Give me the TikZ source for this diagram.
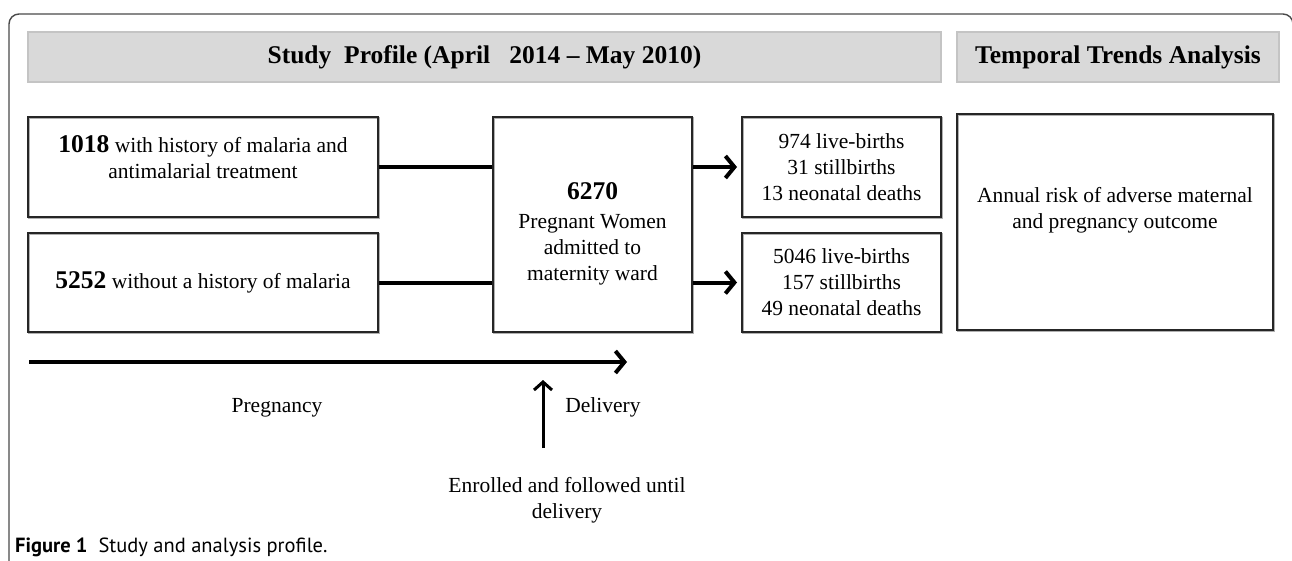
\documentclass[tikz,border=0pt]{standalone}
\usepackage{fontspec}
\setmainfont{Liberation Serif}
\newfontfamily\capfont{PT Sans}
\usetikzlibrary{arrows.meta}
\definecolor{hdrfill}{HTML}{D9D9D9}
\definecolor{hdrdraw}{HTML}{C4C4C4}
\definecolor{framec}{HTML}{4A4A4A}
\definecolor{boxc}{HTML}{262626}
\definecolor{shadowc}{HTML}{B0B0B0}
\newcommand\mybody{\fontsize{21.5}{26}\selectfont}
\newcommand\myhead{\fontsize{25.5}{30}\selectfont\bfseries}
\newcommand\mynum[1]{{\fontsize{25.5}{26}\selectfont\bfseries #1}}
\tikzset{
  hdr/.style={draw=hdrdraw, line width=1.5pt, fill=hdrfill, inner sep=0pt, font=\myhead},
  box/.style={draw=boxc, line width=2pt, inner sep=0pt, align=center, font=\mybody,
    preaction={draw=shadowc, line width=2pt, transform canvas={shift={(1pt,-1pt)}}}},
  txt/.style={inner sep=0pt, align=center, font=\mybody},
  conn/.style={line width=4pt, black},
  arr/.style={line width=4pt, black, -{Straight Barb[length=9pt,width=22pt]}},
  uparr/.style={line width=3pt, black, -{Straight Barb[length=8pt,width=18pt]}},
  framel/.style={draw=framec, line width=1.4pt, rounded corners=10pt}
}
\begin{document}
\begin{tikzpicture}[x=1pt,y=-1pt]
\useasboundingbox (0,0) rectangle (1292,560);
\fill[white] (0,0) rectangle (1292,560);
% frame
\draw[framel] (9,575) -- (9,14) -- (1293,14) -- (1293,575);
% headers
\node[hdr, minimum width=913, minimum height=50] (h1) at (484.5,57) {Study\ \ Profile (April\ \ \ 2014 -- May 2010)};
\node[hdr, minimum width=322, minimum height=50] (h2) at (1118,57) {Temporal Trends Analysis};
% boxes
\node[box, minimum width=350, minimum height=100] (A) at (203,167) {};
\node[txt] (Atext) at (203,157) {\mynum{1018} with history of malaria and\\antimalarial treatment};
\node[box, minimum width=350, minimum height=99] (B) at (203,282.5) {\mynum{5252} without a history of malaria};
\node[box, minimum width=199, minimum height=215] (C) at (592.5,224.5) {};
\node[txt] (Ctext) at (592.5,234) {\mynum{6270}\\[3pt]Pregnant Women\\admitted to\\maternity ward};
\node[box, minimum width=199, minimum height=100] (D) at (841.5,167) {974 live-births\\31 stillbirths\\13 neonatal deaths};
\node[box, minimum width=199, minimum height=99] (E) at (841.5,282.5) {5046 live-births\\157 stillbirths\\49 neonatal deaths};
\node[box, minimum width=316, minimum height=216] (F) at (1115,222) {};
\node[txt] (Ftext) at (1115,210) {Annual risk of adverse maternal\\and pregnancy outcome};
% connectors
\draw[conn] (A.east) -- (A.east -| C.west);
\draw[conn] (B.east) -- (B.east -| C.west);
\draw[arr, shorten >=4pt] (D.west -| C.east) -- (D.west);
\draw[arr, shorten >=4pt] (E.west -| C.east) -- (E.west);
% timeline
\coordinate (tl0) at (29,362);
\coordinate (tl1) at (627,362);
\draw[arr] (tl0) -- (tl1);
\coordinate (up0) at (543,448);
\coordinate (up1) at (543,380);
\draw[uparr] (up0) -- (up1);
\node[txt, anchor=base] (preg) at (277,412) {Pregnancy};
\node[txt, anchor=base] (deliv) at (603,412) {Delivery};
\node[txt] (enr) at (567,500) {Enrolled and followed until\\delivery};
% caption
\node[anchor=base west, inner sep=0pt, font=\capfont\fontsize{20.5}{24}\selectfont] (cap) at (15,552) {\textbf{Figure 1}\ \ Study and analysis profile.};
\end{tikzpicture}
\end{document}
